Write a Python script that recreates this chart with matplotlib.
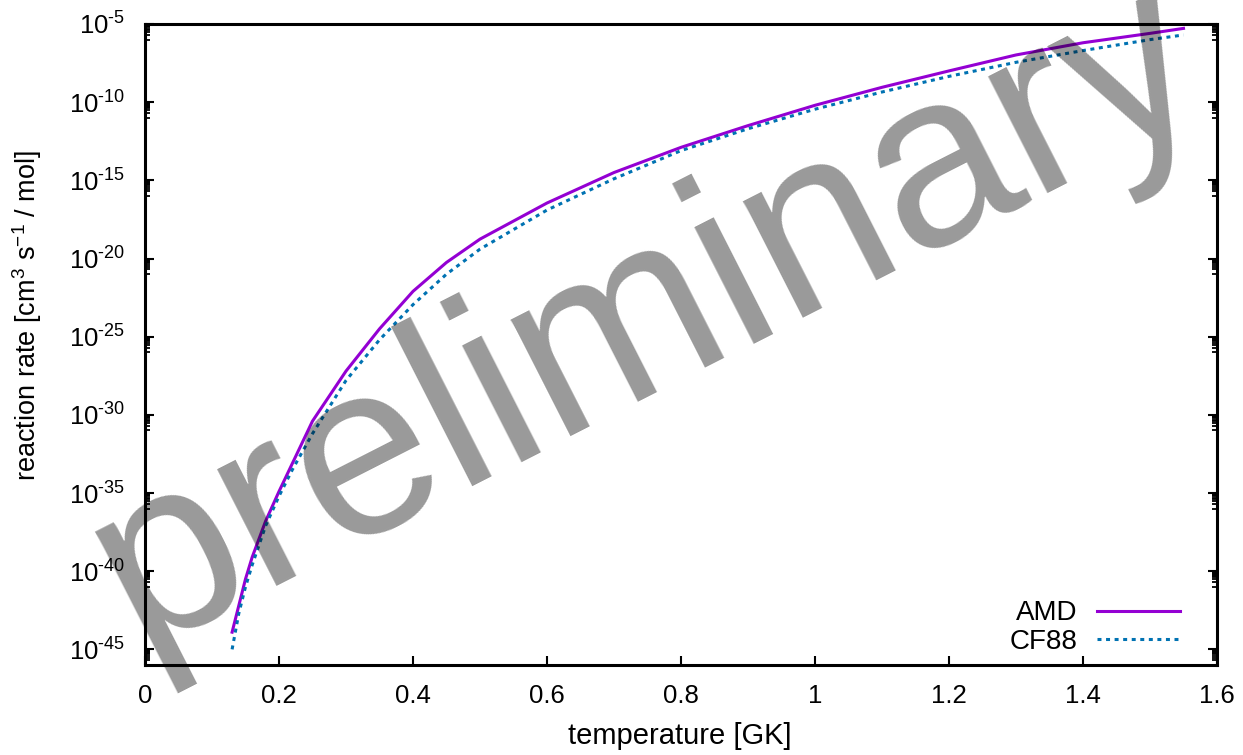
import numpy as np
import matplotlib
matplotlib.use("Agg")
import matplotlib.pyplot as plt
from matplotlib.ticker import FixedLocator, FuncFormatter

plt.rcParams['font.family'] = ['Liberation Sans', 'DejaVu Sans']
plt.rcParams['mathtext.fontset'] = 'custom'
plt.rcParams['mathtext.rm'] = 'Liberation Sans'
plt.rcParams['mathtext.it'] = 'Liberation Sans:italic'
plt.rcParams['mathtext.bf'] = 'Liberation Sans:bold'

# temperature [GK] and log10 of the rate
T_amd = [0.13, 0.14, 0.15, 0.16, 0.18, 0.20, 0.25, 0.30, 0.35, 0.40, 0.45, 0.50,
         0.60, 0.70, 0.80, 0.90, 1.00, 1.10, 1.20, 1.30, 1.40, 1.50, 1.55]
logr_amd = [-43.9, -42.2, -40.5, -39.1, -36.8, -34.9, -30.4, -27.2, -24.5, -22.1, -20.25, -18.76,
            -16.45, -14.5, -12.89, -11.5, -10.2, -9.05, -8.0, -6.98, -6.2, -5.6, -5.28]

T_cf88 = [0.13, 0.14, 0.15, 0.16, 0.18, 0.20, 0.22, 0.25, 0.30, 0.35, 0.40, 0.45, 0.50,
          0.60, 0.70, 0.80, 0.90, 1.00, 1.10, 1.20, 1.30, 1.40, 1.50, 1.55]
logr_cf88 = [-45.0, -42.7, -41.0, -39.6, -37.1, -35.2, -33.5, -31.2, -27.8, -25.2, -22.95, -21.0, -19.4,
             -16.9, -14.9, -13.1, -11.7, -10.45, -9.35, -8.35, -7.45, -6.7, -6.0, -5.7]

xticks = [0, 0.2, 0.4, 0.6, 0.8, 1.0, 1.2, 1.4, 1.6]
yexps = [-45, -40, -35, -30, -25, -20, -15, -10, -5]

fig = plt.figure(figsize=(12.43, 7.55), dpi=100)
ax = fig.add_axes([145/1243, 1-665/755, (1217-145)/1243, (665-24)/755])

ax.plot(T_amd, 10.0**np.array(logr_amd), color='#9400d3', lw=2.2, label='AMD')
ax.plot(T_cf88, 10.0**np.array(logr_cf88), color='#0072b2', lw=2.2,
        linestyle=(0, (1.3, 1.5)), dash_capstyle='butt', label='CF88')

ax.set_yscale('log')
ax.set_xlim(0, 1.6)
ax.set_ylim(1e-46, 1e-5)

ax.xaxis.set_major_locator(FixedLocator(xticks))
ax.xaxis.set_major_formatter(FuncFormatter(lambda v, p: '%g' % v))
ax.yaxis.set_major_locator(FixedLocator([10.0**e for e in yexps]))
ax.yaxis.set_major_formatter(FuncFormatter(
    lambda v, p: r'$\mathregular{10^{\text{-}%d}}$' % abs(round(np.log10(v)))))
minors = [k * 10.0**(e - 1) for e in yexps for k in range(1, 10)]
ax.yaxis.set_minor_locator(FixedLocator(minors))
ax.yaxis.set_minor_formatter(FuncFormatter(lambda v, p: ''))

ax.tick_params(axis='x', which='both', direction='in', top=False, length=6.5, width=1.5,
               labelsize=18.5, pad=14)
ax.tick_params(axis='y', which='major', direction='in', right=True, length=6.5, width=1.5,
               labelsize=18.5, pad=14)
ax.tick_params(axis='y', which='minor', direction='in', right=True, length=3.5, width=1.3)
for s in ax.spines.values():
    s.set_linewidth(2.2)

ax.set_xlabel('temperature [GK]', fontsize=21)
ax.xaxis.set_label_coords((680-145)/1072, (665-722)/641)
ax.set_ylabel(r'reaction rate [cm$^3$ s$^{-1}$ / mol]', fontsize=19.5)
ax.yaxis.set_label_coords((44-145)/1072, (665-315)/641)

leg = ax.legend(loc='lower right', frameon=False, fontsize=20, markerfirst=False,
                handlelength=3.0, handletextpad=0.68, labelspacing=0.1,
                borderaxespad=0, borderpad=0,
                bbox_to_anchor=((1180-145)/1072, (665-655)/641))
for t in leg.get_texts():
    t.set_ha('right')

fig.text(676/1243, 1-374/755, 'preliminary', fontsize=178, color='black', alpha=0.4,
         rotation=27, rotation_mode='anchor', ha='center', va='baseline', zorder=10)

fig.savefig('out.png', dpi=100)
